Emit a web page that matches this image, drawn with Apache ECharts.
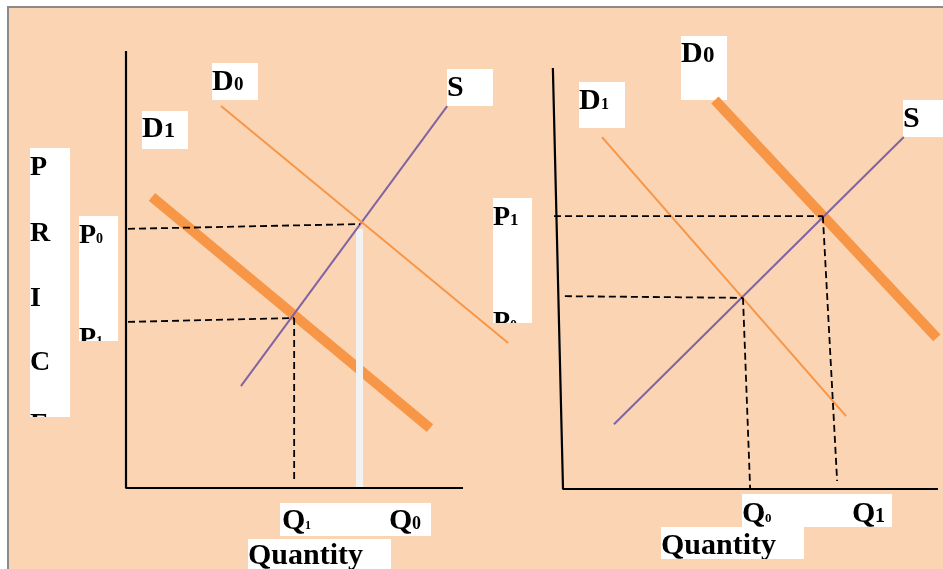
<!DOCTYPE html>
<html>
<head>
<meta charset="utf-8">
<script src="https://cdn.jsdelivr.net/npm/echarts@6/dist/echarts.min.js"></script>
<style>
html,body{margin:0;padding:0;background:#fff;}
#frame{position:absolute;left:7px;top:6px;width:936px;height:563px;background:#FBD4B4;border-top:2px solid #8a8a8a;border-left:2px solid #8a8a8a;box-sizing:border-box;}
#c{position:absolute;left:0;top:0;width:943px;height:569px;}
</style>
</head>
<body>
<div id="frame"></div>
<div id="c"></div>
<script>
// ---- Left panel (demand decreases) : quantity 0..12, price 0..10 ----
const leftAxis = [[0, 10], [0, 0], [10, 0]];
const leftD0 = [[2.82, 8.74], [11.34, 3.32]];
const leftD1 = [[0.77, 6.66], [9.02, 1.37]];
const leftS = [[3.41, 2.33], [9.53, 8.74]];
const leftP0 = [[0.06, 5.93], [6.94, 6.04]];
const leftP1 = [[0.06, 3.80], [4.99, 3.89]];
const leftQ1 = [[4.99, 3.89], [4.99, 0.14]];
const leftBar = [[6.93, 0], [6.93, 5.93]];

// ---- Right panel (demand increases) ----
const rightAxis = [[-0.27, 10], [0, 0], [10, 0]];
const rightD0 = [[4.05, 9.24], [9.97, 3.59]];
const rightD1 = [[1.04, 8.36], [7.55, 1.73]];
const rightS = [[1.36, 1.54], [9.09, 8.36]];
const rightP1 = [[-0.24, 6.48], [6.93, 6.48]];
const rightP0 = [[0.05, 4.58], [4.80, 4.54]];
const rightQ0 = [[4.80, 4.54], [4.99, 0.02]];
const rightQ1 = [[6.93, 6.48], [7.31, 0.19]];

// ---- Label texts ----
const priceLetters = ['P', 'R', 'I', 'C', 'E'];
const axisWord = 'Quantity';

const ORANGE = '#F79646', PURPLE = '#8064A2', PEACH = '#FBD4B4';
const FONT = '"Liberation Serif", "Times New Roman", serif';

function ln(data, gi, color, width, dashed, z) {
  return {
    type: 'line', xAxisIndex: gi, yAxisIndex: gi, data: data,
    showSymbol: false, symbol: 'none', clip: false, silent: true,
    z: z || 2,
    lineStyle: { color: color, width: width, type: dashed ? [7, 4] : 'solid', cap: 'butt' }
  };
}

function t(x, base, size, str) {
  return {
    type: 'text', silent: true,
    x: x, y: base - 0.8 * size,
    style: { text: str, fill: '#000', font: 'bold ' + size + 'px ' + FONT, verticalAlign: 'top', align: 'left', lineHeight: size }
  };
}
function box(x, y, w, h, fill) {
  return { type: 'rect', silent: true, shape: { x: x, y: y, width: w, height: h }, style: { fill: fill || '#fff' } };
}

const graphics = [
  // left label boxes
  box(212, 63, 46, 37), t(212, 91, 30, 'D'), t(234, 91, 19, '0'),
  box(142, 111, 46, 38), t(142, 138, 30, 'D'), t(164, 138, 22, '1'),
  box(447, 69, 46, 37), t(447, 97, 30, 'S'),
  box(30, 148, 40, 269),
  t(30, 176, 28, priceLetters[0]), t(30, 242, 28, priceLetters[1]), t(30, 307, 28, priceLetters[2]),
  t(30, 371, 28, priceLetters[3]), t(30, 433, 28, priceLetters[4]),
  box(79, 216, 39, 125), t(79, 244, 28, 'P'), t(96, 244, 14, '0'),
  t(79, 347, 28, 'P'), t(96, 347, 14, '1'),
  box(280, 503, 151, 33), t(282, 530, 30, 'Q'), t(305, 530, 12, '1'),
  t(389, 530, 30, 'Q'), t(412, 530, 18, '0'),
  box(248, 539, 143, 30), t(248, 565, 30, axisWord),
  // right label boxes
  box(681, 36, 46, 64), t(681, 63, 30, 'D'), t(703, 63, 23, '0'),
  box(579, 82, 46, 46), t(579, 110, 30, 'D'), t(601, 110, 16, '1'),
  box(903, 100, 40, 37), t(903, 128, 30, 'S'),
  box(493, 198, 39, 125), t(493, 226, 28, 'P'), t(510, 226, 17, '1'),
  t(493, 331, 28, 'P'), t(510, 331, 14, '0'),
  box(742, 494, 150, 33), t(742, 523, 30, 'Q'), t(765, 523, 13, '0'),
  t(852, 523, 30, 'Q'), t(875, 523, 20, '1'),
  box(661, 527, 143, 32), t(661, 555, 30, axisWord),
  // covers hiding overflowing text
  box(30, 417, 40, 30, PEACH),
  box(79, 341, 39, 22, PEACH),
  box(493, 323, 39, 22, PEACH),
  box(661, 559, 143, 10, PEACH)
];

const chart = echarts.init(document.getElementById('c'), null, { renderer: 'canvas' });
chart.setOption({
  animation: false,
  backgroundColor: 'transparent',
  grid: [
    { left: 126, top: 51, width: 404.4, height: 437 },
    { left: 544.25, top: 68, width: 393.75, height: 421 }
  ],
  xAxis: [
    { type: 'value', gridIndex: 0, min: 0, max: 12, show: false },
    { type: 'value', gridIndex: 1, min: -0.5, max: 10, show: false }
  ],
  yAxis: [
    { type: 'value', gridIndex: 0, min: 0, max: 10, show: false },
    { type: 'value', gridIndex: 1, min: 0, max: 10, show: false }
  ],
  graphic: { elements: graphics },
  series: [
    // left
    ln(leftD1, 0, ORANGE, 10),
    ln(leftBar, 0, '#F2F2F2', 7),
    ln(leftD0, 0, ORANGE, 2, false, 100),
    ln(leftS, 0, PURPLE, 2),
    ln(leftP0, 0, '#000', 1.8, true),
    ln(leftP1, 0, '#000', 1.8, true),
    ln(leftQ1, 0, '#000', 1.8, true),
    ln(leftAxis, 0, '#000', 2.2),
    // right
    ln(rightD0, 1, ORANGE, 10),
    ln(rightD1, 1, ORANGE, 2),
    ln(rightS, 1, PURPLE, 2),
    ln(rightP1, 1, '#000', 1.8, true),
    ln(rightP0, 1, '#000', 1.8, true),
    ln(rightQ0, 1, '#000', 1.8, true),
    ln(rightQ1, 1, '#000', 1.8, true),
    ln(rightAxis, 1, '#000', 2.2)
  ]
});
</script>
</body>
</html>
